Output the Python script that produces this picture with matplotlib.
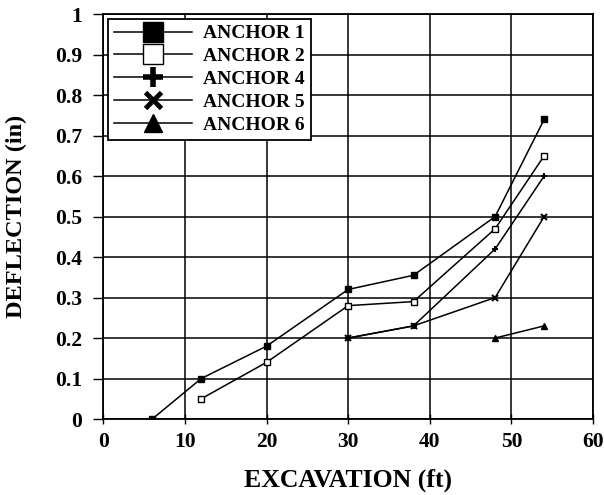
import matplotlib
matplotlib.use("Agg")
import matplotlib.pyplot as plt
from matplotlib.lines import Line2D

plt.rcParams['font.family'] = ['Liberation Serif', 'DejaVu Serif']
plt.rcParams['font.weight'] = 'bold'

a1_x = [6, 12, 20, 30, 38, 48, 54]
a1_y = [0, 0.1, 0.18, 0.32, 0.355, 0.5, 0.74]
a2_x = [12, 20, 30, 38, 48, 54]
a2_y = [0.05, 0.14, 0.28, 0.29, 0.47, 0.65]
a4_x = [30, 38, 48, 54]
a4_y = [0.2, 0.23, 0.42, 0.6]
a5_x = [30, 38, 48, 54]
a5_y = [0.2, 0.23, 0.3, 0.5]
a6_x = [48, 54]
a6_y = [0.2, 0.23]

xticks = [0, 10, 20, 30, 40, 50, 60]
yticks = [0, 0.1, 0.2, 0.3, 0.4, 0.5, 0.6, 0.7, 0.8, 0.9, 1]
ylabels = ['0', '0.1', '0.2', '0.3', '0.4', '0.5', '0.6', '0.7', '0.8', '0.9', '1']
names = ['ANCHOR 1', 'ANCHOR 2', 'ANCHOR 4', 'ANCHOR 5', 'ANCHOR 6']

fig = plt.figure(figsize=(6.04, 4.95), dpi=100)
ax = fig.add_axes([0.171, 0.1535, 0.811, 0.818])

kw = dict(color='k', lw=1.1, markersize=5)
ax.plot(a1_x, a1_y, marker='s', mfc='k', **kw)
ax.plot(a2_x, a2_y, marker='s', mfc='white', **kw)
ax.plot(a4_x, a4_y, marker='+', mew=1.5, **kw)
ax.plot(a5_x, a5_y, marker='x', mew=1.5, **kw)
ax.plot(a6_x, a6_y, marker='^', mfc='k', **kw)

# legend uses bigger markers than the plot
handles = [
    Line2D([], [], color='k', lw=1.1, marker='s', mfc='k', markersize=14),
    Line2D([], [], color='k', lw=1.1, marker='s', mfc='white', markersize=14),
    Line2D([], [], color='k', lw=1.1, marker='+', mew=4, markersize=15),
    Line2D([], [], color='k', lw=1.1, marker='x', mew=3.5, markersize=12),
    Line2D([], [], color='k', lw=1.1, marker='^', mfc='k', markersize=13),
]
leg = ax.legend(handles, names, loc='upper left', fancybox=False, framealpha=1,
                edgecolor='k', handlelength=4.0, borderaxespad=0.25, borderpad=0.3,
                labelspacing=0.27, handletextpad=0.6,
                prop={'family': 'Liberation Serif', 'weight': 'bold', 'size': 14})
leg.get_frame().set_linewidth(1.3)

ax.set_xlim(0, 60)
ax.set_ylim(0, 1)
ax.set_xticks(xticks)
ax.set_yticks(yticks)
ax.set_yticklabels(ylabels)
ax.tick_params(axis='y', labelsize=15.5, length=7, width=1, direction='out', pad=8)
ax.tick_params(axis='x', labelsize=15.5, length=7, width=1, direction='inout', pad=6)
for lab in ax.get_xticklabels() + ax.get_yticklabels():
    lab.set_fontweight('bold')
ax.grid(True, color='k', lw=1.1)
for s in ax.spines.values():
    s.set_linewidth(1.3)

ax.set_xlabel('EXCAVATION (ft)', fontsize=18.5, fontweight='bold', labelpad=12)
ax.set_ylabel('DEFLECTION (in)', fontsize=17.5, fontweight='bold', labelpad=20)

fig.savefig('out.png', dpi=100)
